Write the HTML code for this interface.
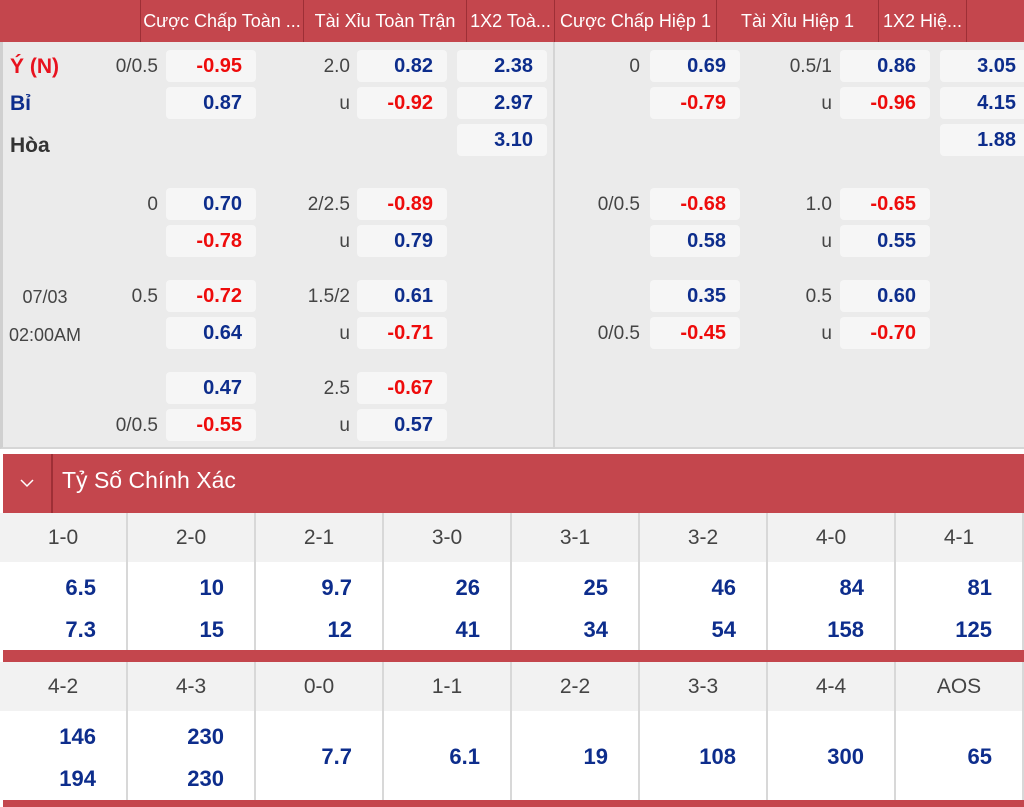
<!DOCTYPE html>
<html><head><meta charset="utf-8"><style>
*{margin:0;padding:0;box-sizing:border-box}
body{width:1024px;height:807px;overflow:hidden;background:#fff;font-family:"Liberation Sans","DejaVu Sans",sans-serif;position:relative}
.a{position:absolute}
.hd{background:#c4464d;color:#fff}
.hc{position:absolute;top:0;height:42px;line-height:42px;font-size:18px;color:#fff;text-align:center;border-left:1px solid #9e2f36;white-space:nowrap;overflow:hidden}
.b{position:absolute;width:90px;height:32px;background:#f6f6f6;border-radius:4px;text-align:right;padding-right:14px;line-height:33px;font-weight:bold;font-size:20px}
.r{color:#ee0b0b}.u{color:#0d2d8c}
.l{position:absolute;font-size:19px;color:#444;text-align:right;width:70px;height:32px;line-height:34px}
.g{position:absolute;height:49px;line-height:49px;background:#f2f2f2;color:#444;font-size:21px;text-align:center;width:128px;border-right:2px solid #d8d8d8}
.v{position:absolute;width:128px;border-right:2px solid #d8d8d8;color:#0d2d8c;font-weight:bold;font-size:22px;text-align:right;padding-right:30px;background:#fff}
</style></head><body>
<div class="a hd" style="left:0;top:0;width:1024px;height:42px"></div>
<div class="hc" style="left:140px;width:163px">Cược Chấp Toàn ...</div>
<div class="hc" style="left:303px;width:163px">Tài Xỉu Toàn Trận</div>
<div class="hc" style="left:466px;width:88px">1X2 Toà...</div>
<div class="hc" style="left:554px;width:162px">Cược Chấp Hiệp 1</div>
<div class="hc" style="left:716px;width:162px">Tài Xỉu Hiệp 1</div>
<div class="hc" style="left:878px;width:88px">1X2 Hiệ...</div>
<div class="hc" style="left:966px;width:58px"></div>
<div class="a" style="left:0;top:42px;width:1024px;height:407px;background:#ebebeb;border-left:3px solid #d0d0d0;border-bottom:2px solid #d6d6d6"></div>
<div class="a" style="left:553px;top:42px;width:2px;height:407px;background:#d4d4d4"></div>

<div class="a" style="left:10px;top:55px;font-size:21px;font-weight:bold;color:#e8121e">Ý (N)</div>
<div class="a" style="left:10px;top:92px;font-size:21px;font-weight:bold;color:#0d2d8c">Bỉ</div>
<div class="a" style="left:10px;top:134px;font-size:21px;font-weight:bold;color:#333">Hòa</div>
<div class="a" style="left:2px;top:278px;font-size:18px;color:#444;width:86px;text-align:center;line-height:38px">07/03<br>02:00AM</div>

<!-- left side -->
<div class="l" style="left:88px;top:50px">0/0.5</div>
<div class="b r" style="left:166px;top:50px">-0.95</div>
<div class="l" style="left:280px;top:50px">2.0</div>
<div class="b u" style="left:357px;top:50px">0.82</div>
<div class="b u" style="left:457px;top:50px">2.38</div>
<div class="b u" style="left:166px;top:87px">0.87</div>
<div class="l" style="left:280px;top:87px">u</div>
<div class="b r" style="left:357px;top:87px">-0.92</div>
<div class="b u" style="left:457px;top:87px">2.97</div>
<div class="b u" style="left:457px;top:124px">3.10</div>

<div class="l" style="left:88px;top:188px">0</div>
<div class="b u" style="left:166px;top:188px">0.70</div>
<div class="l" style="left:280px;top:188px">2/2.5</div>
<div class="b r" style="left:357px;top:188px">-0.89</div>
<div class="b r" style="left:166px;top:225px">-0.78</div>
<div class="l" style="left:280px;top:225px">u</div>
<div class="b u" style="left:357px;top:225px">0.79</div>

<div class="l" style="left:88px;top:280px">0.5</div>
<div class="b r" style="left:166px;top:280px">-0.72</div>
<div class="l" style="left:280px;top:280px">1.5/2</div>
<div class="b u" style="left:357px;top:280px">0.61</div>
<div class="b u" style="left:166px;top:317px">0.64</div>
<div class="l" style="left:280px;top:317px">u</div>
<div class="b r" style="left:357px;top:317px">-0.71</div>

<div class="b u" style="left:166px;top:372px">0.47</div>
<div class="l" style="left:280px;top:372px">2.5</div>
<div class="b r" style="left:357px;top:372px">-0.67</div>
<div class="l" style="left:88px;top:409px">0/0.5</div>
<div class="b r" style="left:166px;top:409px">-0.55</div>
<div class="l" style="left:280px;top:409px">u</div>
<div class="b u" style="left:357px;top:409px">0.57</div>

<!-- right side -->
<div class="l" style="left:570px;top:50px">0</div>
<div class="b u" style="left:650px;top:50px">0.69</div>
<div class="l" style="left:762px;top:50px">0.5/1</div>
<div class="b u" style="left:840px;top:50px">0.86</div>
<div class="b u" style="left:940px;top:50px">3.05</div>
<div class="b r" style="left:650px;top:87px">-0.79</div>
<div class="l" style="left:762px;top:87px">u</div>
<div class="b r" style="left:840px;top:87px">-0.96</div>
<div class="b u" style="left:940px;top:87px">4.15</div>
<div class="b u" style="left:940px;top:124px">1.88</div>

<div class="l" style="left:570px;top:188px">0/0.5</div>
<div class="b r" style="left:650px;top:188px">-0.68</div>
<div class="l" style="left:762px;top:188px">1.0</div>
<div class="b r" style="left:840px;top:188px">-0.65</div>
<div class="b u" style="left:650px;top:225px">0.58</div>
<div class="l" style="left:762px;top:225px">u</div>
<div class="b u" style="left:840px;top:225px">0.55</div>

<div class="b u" style="left:650px;top:280px">0.35</div>
<div class="l" style="left:762px;top:280px">0.5</div>
<div class="b u" style="left:840px;top:280px">0.60</div>
<div class="l" style="left:570px;top:317px">0/0.5</div>
<div class="b r" style="left:650px;top:317px">-0.45</div>
<div class="l" style="left:762px;top:317px">u</div>
<div class="b r" style="left:840px;top:317px">-0.70</div>

<!-- exact score -->
<div class="a hd" style="left:3px;top:454px;width:1021px;height:59px"></div>
<div class="a" style="left:51px;top:454px;width:2px;height:59px;background:#9e2f36"></div>
<svg class="a" style="left:19px;top:478px" width="16" height="10"><polyline points="2,2 8,8 14,2" fill="none" stroke="#fff" stroke-width="1.5"/></svg>
<div class="a" style="left:62px;top:467px;color:#fff;font-size:23px">Tỷ Số Chính Xác</div>

<div class="g" style="left:0;top:513px">1-0</div><div class="g" style="left:128px;top:513px">2-0</div><div class="g" style="left:256px;top:513px">2-1</div><div class="g" style="left:384px;top:513px">3-0</div><div class="g" style="left:512px;top:513px">3-1</div><div class="g" style="left:640px;top:513px">3-2</div><div class="g" style="left:768px;top:513px">4-0</div><div class="g" style="left:896px;top:513px">4-1</div>
<div class="v" style="left:0;top:562px;height:88px;line-height:42px;padding-top:5px">6.5<br>7.3</div>
<div class="v" style="left:128px;top:562px;height:88px;line-height:42px;padding-top:5px">10<br>15</div>
<div class="v" style="left:256px;top:562px;height:88px;line-height:42px;padding-top:5px">9.7<br>12</div>
<div class="v" style="left:384px;top:562px;height:88px;line-height:42px;padding-top:5px">26<br>41</div>
<div class="v" style="left:512px;top:562px;height:88px;line-height:42px;padding-top:5px">25<br>34</div>
<div class="v" style="left:640px;top:562px;height:88px;line-height:42px;padding-top:5px">46<br>54</div>
<div class="v" style="left:768px;top:562px;height:88px;line-height:42px;padding-top:5px">84<br>158</div>
<div class="v" style="left:896px;top:562px;height:88px;line-height:42px;padding-top:5px">81<br>125</div>
<div class="a hd" style="left:3px;top:650px;width:1021px;height:12px"></div>

<div class="g" style="left:0;top:662px">4-2</div><div class="g" style="left:128px;top:662px">4-3</div><div class="g" style="left:256px;top:662px">0-0</div><div class="g" style="left:384px;top:662px">1-1</div><div class="g" style="left:512px;top:662px">2-2</div><div class="g" style="left:640px;top:662px">3-3</div><div class="g" style="left:768px;top:662px">4-4</div><div class="g" style="left:896px;top:662px">AOS</div>
<div class="v" style="left:0;top:711px;height:89px;line-height:42px;padding-top:5px">146<br>194</div>
<div class="v" style="left:128px;top:711px;height:89px;line-height:42px;padding-top:5px">230<br>230</div>
<div class="v" style="left:256px;top:711px;height:89px;line-height:92px">7.7</div>
<div class="v" style="left:384px;top:711px;height:89px;line-height:92px">6.1</div>
<div class="v" style="left:512px;top:711px;height:89px;line-height:92px">19</div>
<div class="v" style="left:640px;top:711px;height:89px;line-height:92px">108</div>
<div class="v" style="left:768px;top:711px;height:89px;line-height:92px">300</div>
<div class="v" style="left:896px;top:711px;height:89px;line-height:92px">65</div>
<div class="a hd" style="left:3px;top:800px;width:1021px;height:7px"></div>
</body></html>
